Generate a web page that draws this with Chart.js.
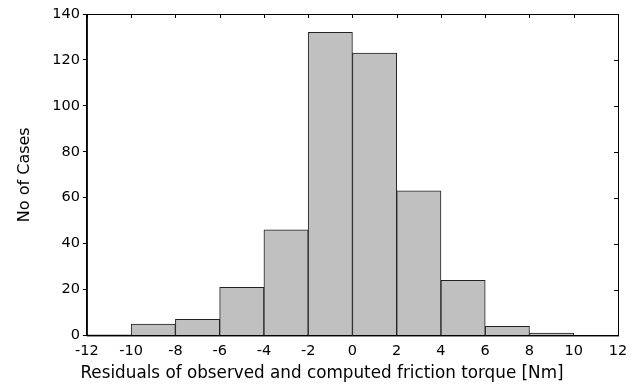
<!DOCTYPE html>
<html>
<head>
<meta charset="utf-8">
<script src="https://cdn.jsdelivr.net/npm/chart.js@4/dist/chart.umd.min.js"></script>
<style>
html,body{margin:0;padding:0;background:#fff;}
#wrap{width:644px;height:387px;}
</style>
</head>
<body>
<div id="wrap"><canvas id="c" width="644" height="387"></canvas></div>
<script>
const binCenters = [-11, -9, -7, -5, -3, -1, 1, 3, 5, 7, 9, 11];
const counts = [0.3, 5, 7, 21, 46, 132, 123, 63, 24, 4, 1, 0];
const xTicks = [-12, -10, -8, -6, -4, -2, 0, 2, 4, 6, 8, 10, 12];
const yTicks = [0, 20, 40, 60, 80, 100, 120, 140];
const xTitle = 'Residuals of observed and computed friction torque [Nm]';
const yTitle = 'No of Cases';

const FONT = 'DejaVu Sans';
const XT_SIZE = 16.8;

const framePlugin = {
  id: 'frame',
  afterDraw(chart) {
    const {ctx, chartArea: a, scales} = chart;
    ctx.save();
    ctx.strokeStyle = '#000';
    ctx.lineWidth = 1;
    ctx.strokeRect(a.left + 0.5, a.top + 0.5, a.right - a.left, a.bottom - a.top);
    ctx.beginPath();
    xTicks.forEach(v => {
      const px = Math.round(scales.x.getPixelForValue(v)) + 0.5;
      ctx.moveTo(px, a.top); ctx.lineTo(px, a.top + 4);
    });
    yTicks.forEach(v => {
      const py = Math.round(scales.y.getPixelForValue(v)) + 0.5;
      ctx.moveTo(a.right, py); ctx.lineTo(a.right - 4, py);
    });
    ctx.stroke();
    // x-axis title, centred on the page like the original
    ctx.fillStyle = '#000';
    ctx.font = XT_SIZE + 'px "' + FONT + '"';
    ctx.textAlign = 'center';
    ctx.textBaseline = 'middle';
    ctx.fillText(xTitle, chart.width / 2, scales.x.bottom - XT_SIZE * 1.2 / 2);
    ctx.restore();
  }
};

new Chart(document.getElementById('c'), {
  type: 'bar',
  data: {
    datasets: [{
      data: binCenters.map((x, i) => ({x: x, y: counts[i]})),
      backgroundColor: '#c0c0c0',
      borderColor: '#222222',
      borderWidth: 1,
      barPercentage: 1,
      categoryPercentage: 1
    }]
  },
  options: {
    responsive: false,
    animation: false,
    devicePixelRatio: 1,
    layout: {padding: {left: 15, right: 26, top: 14, bottom: 3}},
    plugins: {legend: {display: false}, tooltip: {enabled: false}},
    scales: {
      x: {
        type: 'linear',
        offset: false,
        min: -12, max: 12,
        afterBuildTicks: s => { s.ticks = xTicks.map(v => ({value: v})); },
        ticks: {color: '#000', font: {family: FONT, size: 14.5}, padding: 7, maxRotation: 0},
        grid: {drawOnChartArea: false, drawTicks: false, offset: false, color: '#000'},
        border: {color: '#000'},
        title: {display: true, text: xTitle, color: 'rgba(0,0,0,0)', font: {family: FONT, size: XT_SIZE}, padding: {top: -3, bottom: 0}}
      },
      y: {
        min: 0, max: 140,
        afterBuildTicks: s => { s.ticks = yTicks.map(v => ({value: v})); },
        ticks: {color: '#000', font: {family: FONT, size: 14.5}, padding: 3},
        grid: {drawOnChartArea: false, tickLength: 4, color: '#000'},
        border: {color: '#000'},
        title: {display: true, text: yTitle, color: '#000', font: {family: FONT, size: 16}, padding: {top: 0, bottom: 15}}
      }
    }
  },
  plugins: [framePlugin]
});
</script>
</body>
</html>
